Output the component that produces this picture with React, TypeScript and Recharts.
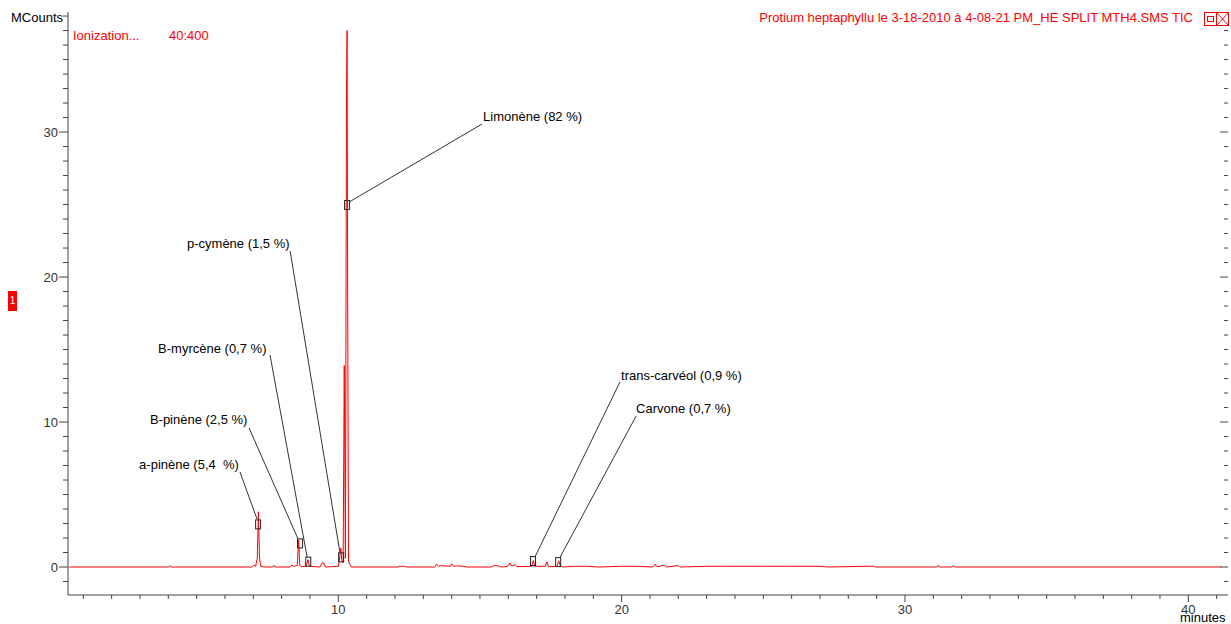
import React from 'react';
import { LineChart, Line, XAxis, YAxis, ReferenceLine, ReferenceDot } from 'recharts';

// Chromatogram (TIC) – retention time in minutes, intensity in MCounts
const times = [
  0.5, 4.0, 4.07, 4.12, 6.95, 7.02, 7.08, 7.14, 7.18, 7.22, 7.26, 7.4,
  7.68, 7.73, 7.78, 8.3, 8.37, 8.42, 8.55, 8.6, 8.64, 8.7, 8.86, 8.93, 8.98,
  9.35, 9.42, 9.48, 9.55, 10.0, 10.06, 10.09, 10.12, 10.17, 10.21, 10.25,
  10.29, 10.31, 10.33, 10.36, 10.41, 10.46,
  12.1, 12.15, 12.35, 12.4, 13.4, 13.47, 13.54, 13.65, 13.95, 14.0, 14.07,
  14.25, 14.4, 14.55, 15.4, 15.5, 15.65, 15.75, 15.98, 16.06, 16.12, 16.24,
  16.3, 16.82, 16.88, 16.94, 17.3, 17.36, 17.42, 17.72, 17.78, 17.84, 17.95,
  18.3, 18.8, 19.2, 20.0, 20.5, 21.1, 21.18, 21.25, 21.5, 21.58, 22.0, 22.05,
  23.0, 23.5, 24.0, 25.0, 26.0, 27.0, 27.3, 28.9, 28.95, 31.1, 31.17, 31.25,
  31.65, 31.7, 31.78, 41.15,
];
const counts = [
  0, 0, 0.08, 0, 0, 0.12, 0.05, 0.6, 3.81, 0.6, 0.05, 0,
  0, 0.12, 0, 0, 0.15, 0.05, 0.1, 1.86, 0.1, 0.02, 0.05, 0.5, 0.05,
  0, 0.25, 0.3, 0, 0.05, 0.8, 1.3, 0.5, 0.3, 13.9, 0.6,
  33.0, 37.0, 18.6, 0.4, 0.15, 0,
  0, 0.05, 0.05, 0, 0, 0.2, 0.05, 0.1, 0.05, 0.22, 0.05,
  0.08, 0.05, 0, 0, 0.1, 0.08, 0, 0.05, 0.28, 0.05, 0.18,
  0.02, 0.05, 0.45, 0.05, 0.05, 0.35, 0.02, 0.05, 0.42, 0.05, 0,
  0.05, 0.05, 0, 0.05, 0.05, 0, 0.2, 0.02, 0.12, 0, 0.1, 0,
  0.05, 0.05, 0.05, 0.05, 0.05, 0.05, 0, 0.06, 0, 0, 0.1, 0,
  0, 0.1, 0, 0,
];

// Peak annotations
const peakNames = [
  'a-pinène (5,4  %)', 'B-pinène (2,5 %)', 'B-myrcène (0,7 %)', 'p-cymène (1,5 %)',
  'Limonène (82 %)', 'trans-carvéol (0,9 %)', 'Carvone (0,7 %)',
];
const markerTimes = [7.17, 8.65, 8.94, 10.1, 10.31, 16.87, 17.76];
const markerCounts = [2.94, 1.63, 0.37, 0.67, 24.97, 0.41, 0.34];
const labelTimes = [2.97, 3.35, 3.64, 4.66, 15.11, 19.98, 20.51];
const labelCounts = [7.1, 10.14, 15.1, 22.34, 31.1, 13.24, 10.9];
const leaderStartTimes = [6.53, 6.85, 7.59, 8.3, 15.07, 19.94, 20.51];
const leaderStartCounts = [6.55, 9.59, 14.62, 21.79, 30.55, 12.76, 10.41];
const leaderEndTimes = [7.13, 8.58, 8.9, 10.06, 10.38, 16.94, 17.83];
const leaderEndCounts = [3.31, 1.93, 0.69, 0.97, 25.17, 0.69, 0.69];

const xMajorTicks = [10, 20, 30, 40];
const yMajorTicks = [0, 10, 20, 30];
const xTicks = Array.from({ length: 41 }, (_, i) => i + 1);
const yTicks = Array.from({ length: 40 }, (_, i) => i - 1);

const titleText = 'Protium heptaphyllu le 3-18-2010 à 4-08-21 PM_HE SPLIT MTH4.SMS TIC';

const data = times.map((t, i) => ({ t, v: counts[i] }));

const FONT = '"Liberation Sans", Arial, sans-serif';
const AXIS = '#444';

const LeftTick = (props: any) => {
  const { x, y, payload } = props;
  const v = payload.value;
  const major = yMajorTicks.includes(v);
  return (
    <g>
      <line x1={x - (major ? 9 : 5)} x2={x} y1={y} y2={y} stroke={AXIS} />
      {major && (
        <text x={x - 10} y={y + 4.5} textAnchor="end" fontSize={13} fill="#333" fontFamily={FONT}>
          {v}
        </text>
      )}
    </g>
  );
};

const RightTick = (props: any) => {
  const { x, y, payload } = props;
  const major = yMajorTicks.includes(payload.value);
  return <line x1={x - (major ? 8 : 4)} x2={x} y1={y} y2={y} stroke={AXIS} />;
};

const BottomTick = (props: any) => {
  const { x, y, payload } = props;
  const v = payload.value;
  const major = xMajorTicks.includes(v);
  return (
    <g>
      <line x1={x} x2={x} y1={y} y2={y + (major ? 7 : 4)} stroke={AXIS} />
      {major && (
        <text x={x} y={y + 19} textAnchor="middle" fontSize={13} fill="#333" fontFamily={FONT}>
          {v}
        </text>
      )}
    </g>
  );
};

const textStyle: React.CSSProperties = {
  position: 'absolute',
  fontFamily: FONT,
  fontSize: 13,
  lineHeight: '15px',
  whiteSpace: 'pre',
};

export default function App() {
  return (
    <div style={{ position: 'absolute', left: 0, top: 0, width: 1231, height: 624, background: '#fff', overflow: 'hidden' }}>
      <LineChart width={1231} height={624} data={data} margin={{ top: 12, right: 0, bottom: 0, left: 0 }}>
        <XAxis
          dataKey="t"
          type="number"
          domain={[0.46, 41.4]}
          allowDataOverflow
          ticks={xTicks}
          interval={0}
          height={29}
          axisLine={{ stroke: AXIS }}
          tickLine={false}
          tickSize={0}
          tickMargin={0}
          tick={<BottomTick />}
        />
        <YAxis
          yAxisId="left"
          type="number"
          domain={[-1.93, 38.28]}
          allowDataOverflow
          ticks={yTicks}
          interval={0}
          width={68}
          axisLine={{ stroke: AXIS }}
          tickLine={false}
          tickSize={0}
          tickMargin={0}
          tick={<LeftTick />}
        />
        <YAxis
          yAxisId="right"
          orientation="right"
          type="number"
          domain={[-1.93, 38.28]}
          allowDataOverflow
          ticks={yTicks}
          interval={0}
          width={3}
          axisLine={false}
          tickLine={false}
          tickSize={0}
          tickMargin={0}
          tick={<RightTick />}
        />
        <Line
          yAxisId="left"
          dataKey="v"
          type="linear"
          stroke="#ff0000"
          strokeWidth={1}
          dot={false}
          isAnimationActive={false}
        />
        {peakNames.map((name, i) => (
          <ReferenceLine
            key={'l' + i}
            yAxisId="left"
            segment={[
              { x: leaderStartTimes[i], y: leaderStartCounts[i] },
              { x: leaderEndTimes[i], y: leaderEndCounts[i] },
            ]}
            stroke="#333"
            strokeWidth={1}
          />
        ))}
        {peakNames.map((name, i) => (
          <ReferenceDot
            key={'m' + i}
            yAxisId="left"
            x={markerTimes[i]}
            y={markerCounts[i]}
            r={3}
            shape={(p: any) => (
              <rect x={p.cx - 2.5} y={p.cy - 4.5} width={5} height={9} fill="none" stroke="#222" strokeWidth={1} />
            )}
          />
        ))}
        {peakNames.map((name, i) => (
          <ReferenceDot
            key={'t' + i}
            yAxisId="left"
            x={labelTimes[i]}
            y={labelCounts[i]}
            r={1}
            shape={(p: any) => (
              <text x={p.cx} y={p.cy + 4.5} fontSize={13} fill="#000" fontFamily={FONT} style={{ whiteSpace: 'pre' }}>
                {name}
              </text>
            )}
          />
        ))}
      </LineChart>

      <div style={{ ...textStyle, left: 11, top: 10, color: '#000' }}>MCounts</div>
      <div style={{ ...textStyle, left: 73, top: 28, color: '#ff0000' }}>Ionization...</div>
      <div style={{ ...textStyle, left: 169, top: 28, color: '#ff0000' }}>40:400</div>
      <div style={{ ...textStyle, right: 38, top: 10, color: '#ff0000' }}>{titleText}</div>
      <div style={{ ...textStyle, left: 1180, top: 612, lineHeight: '12px', color: '#000' }}>minutes</div>

      <svg style={{ position: 'absolute', left: 1204, top: 12 }} width={26} height={15}>
        <rect x={0.5} y={0.5} width={12} height={13} fill="#fff" stroke="#ff0000" />
        <rect x={3.5} y={4.5} width={6} height={5} fill="none" stroke="#ff0000" />
        <rect x={12.5} y={0.5} width={12} height={13} fill="#fff" stroke="#ff0000" />
        <line x1={13} y1={1} x2={24} y2={13} stroke="#ff0000" />
        <line x1={24} y1={1} x2={13} y2={13} stroke="#ff0000" />
      </svg>

      <div
        style={{
          position: 'absolute',
          left: 8,
          top: 291,
          width: 9,
          height: 20,
          background: '#ff0000',
          color: '#fff',
          fontFamily: FONT,
          fontSize: 10,
          lineHeight: '20px',
          textAlign: 'center',
        }}
      >
        1
      </div>
    </div>
  );
}
